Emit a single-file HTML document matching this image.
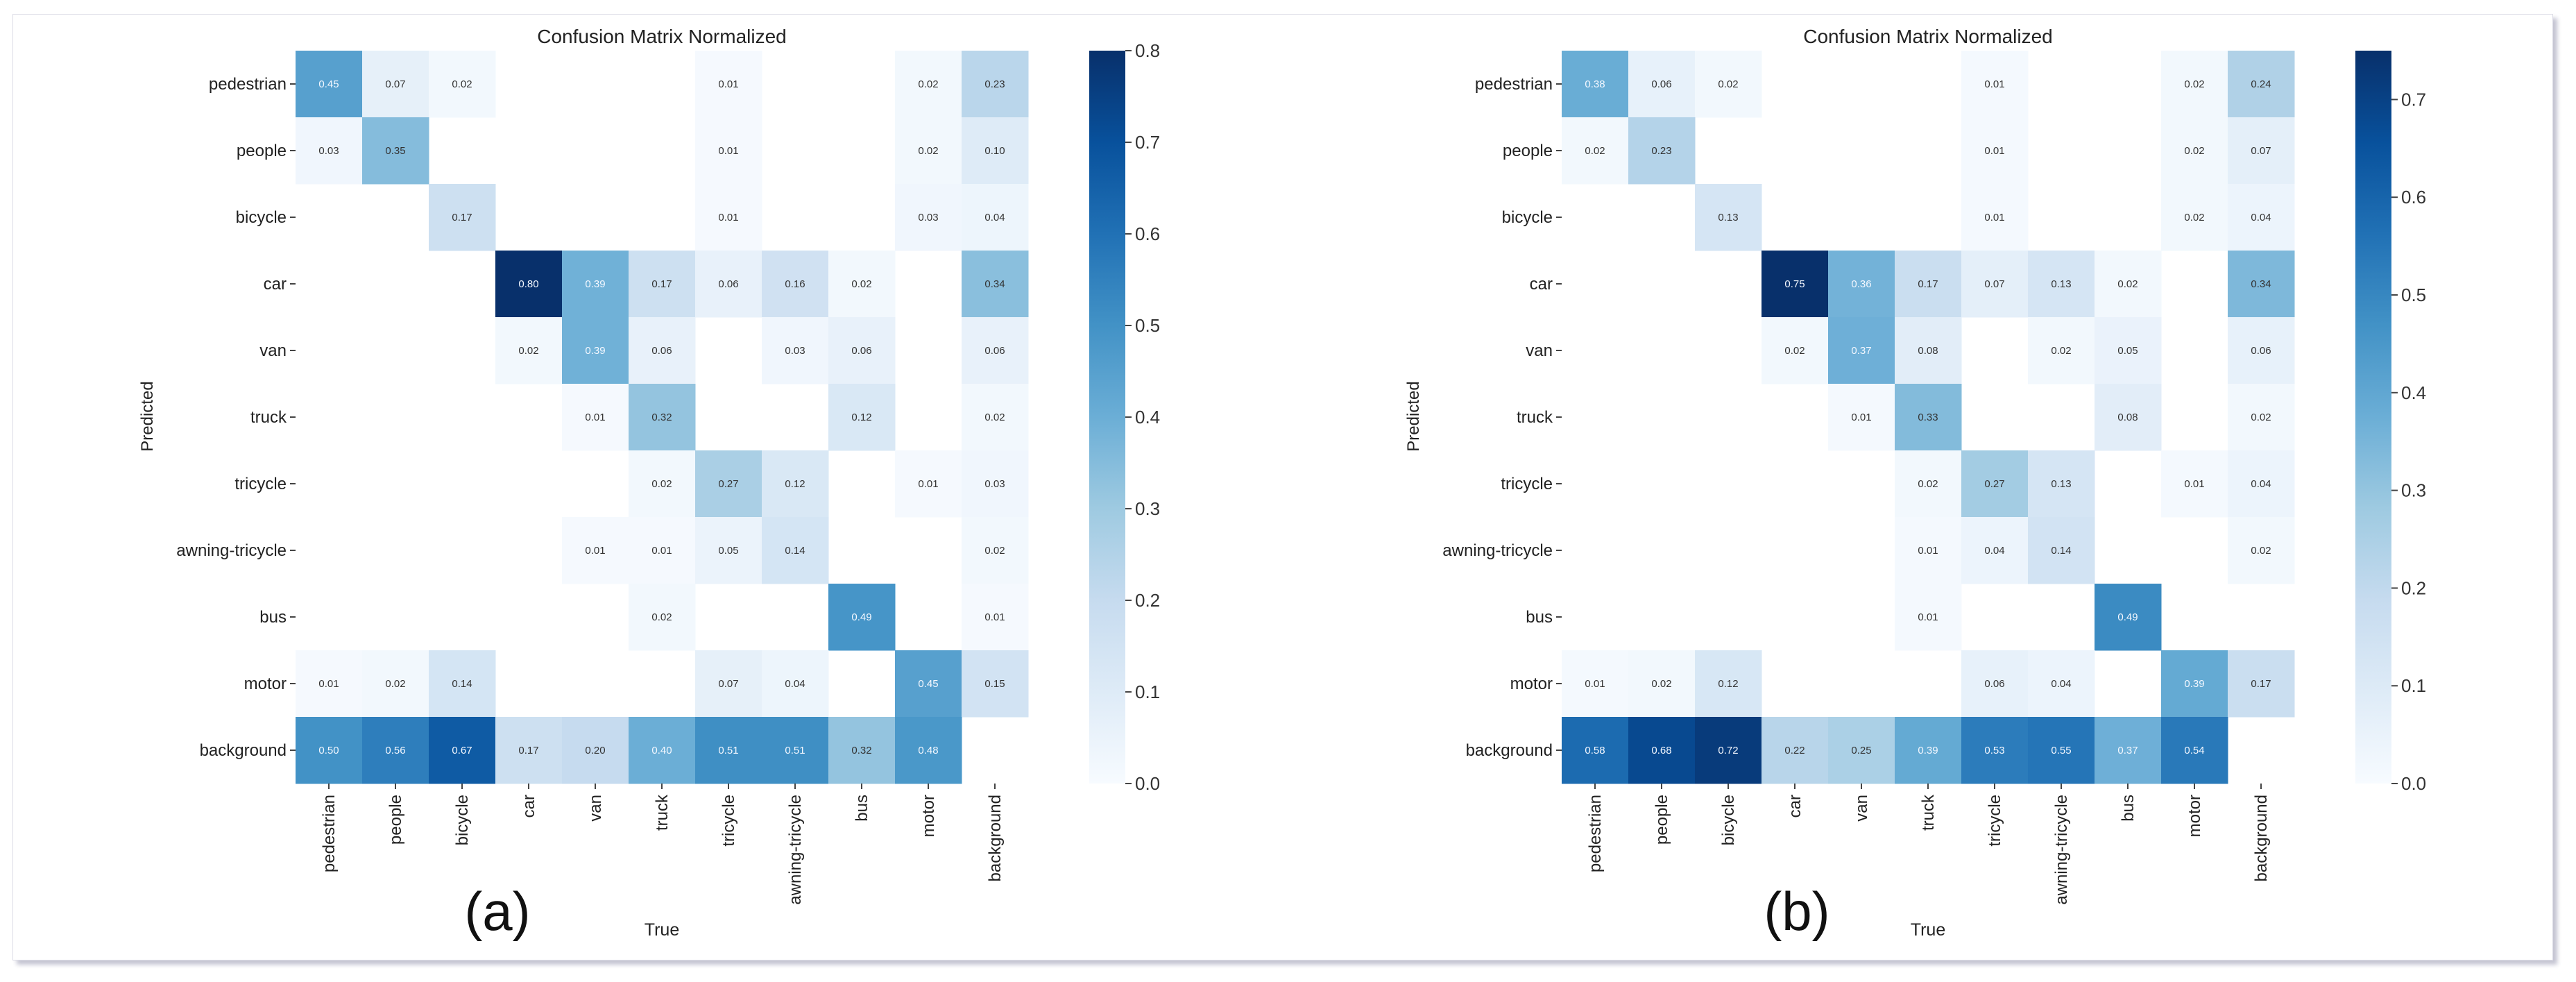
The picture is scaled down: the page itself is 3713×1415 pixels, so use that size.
<!DOCTYPE html>
<html><head><meta charset="utf-8">
<style>
html,body{margin:0;padding:0;background:#fff;}
#frame{position:absolute;left:18px;top:20px;width:3660px;height:1362px;border:1px solid #dcdce6;box-shadow:6px 6px 6px #c4c4d2;background:#fff;}
svg{position:absolute;left:0;top:0;}
text{font-family:"Liberation Sans",sans-serif;}
</style></head>
<body>
<div id="frame"></div>
<svg id="chart" width="3713" height="1415"></svg>
<script>
const classes = ["pedestrian","people","bicycle","car","van","truck","tricycle","awning-tricycle","bus","motor","background"];
const matrixA = [
 [0.45,0.07,0.02,null,null,null,0.01,null,null,0.02,0.23],
 [0.03,0.35,null,null,null,null,0.01,null,null,0.02,0.10],
 [null,null,0.17,null,null,null,0.01,null,null,0.03,0.04],
 [null,null,null,0.80,0.39,0.17,0.06,0.16,0.02,null,0.34],
 [null,null,null,0.02,0.39,0.06,null,0.03,0.06,null,0.06],
 [null,null,null,null,0.01,0.32,null,null,0.12,null,0.02],
 [null,null,null,null,null,0.02,0.27,0.12,null,0.01,0.03],
 [null,null,null,null,0.01,0.01,0.05,0.14,null,null,0.02],
 [null,null,null,null,null,0.02,null,null,0.49,null,0.01],
 [0.01,0.02,0.14,null,null,null,0.07,0.04,null,0.45,0.15],
 [0.50,0.56,0.67,0.17,0.20,0.40,0.51,0.51,0.32,0.48,null]
];
const matrixB = [
 [0.38,0.06,0.02,null,null,null,0.01,null,null,0.02,0.24],
 [0.02,0.23,null,null,null,null,0.01,null,null,0.02,0.07],
 [null,null,0.13,null,null,null,0.01,null,null,0.02,0.04],
 [null,null,null,0.75,0.36,0.17,0.07,0.13,0.02,null,0.34],
 [null,null,null,0.02,0.37,0.08,null,0.02,0.05,null,0.06],
 [null,null,null,null,0.01,0.33,null,null,0.08,null,0.02],
 [null,null,null,null,null,0.02,0.27,0.13,null,0.01,0.04],
 [null,null,null,null,null,0.01,0.04,0.14,null,null,0.02],
 [null,null,null,null,null,0.01,null,null,0.49,null,null],
 [0.01,0.02,0.12,null,null,null,0.06,0.04,null,0.39,0.17],
 [0.58,0.68,0.72,0.22,0.25,0.39,0.53,0.55,0.37,0.54,null]
];
const ticksA = [0.0,0.1,0.2,0.3,0.4,0.5,0.6,0.7,0.8];
const ticksB = [0.0,0.1,0.2,0.3,0.4,0.5,0.6,0.7];
const panelLabels = ["(a)","(b)"];

const NS="http://www.w3.org/2000/svg";
const svg=document.getElementById('chart');
function mk(tag,attrs,parent){const e=document.createElementNS(NS,tag);for(const k in attrs)e.setAttribute(k,attrs[k]);(parent||svg).appendChild(e);return e;}
const stops=["#f7fbff","#deebf7","#c6dbef","#9ecae1","#6baed6","#4292c6","#2171b5","#08519c","#08306b"].map(h=>[parseInt(h.slice(1,3),16),parseInt(h.slice(3,5),16),parseInt(h.slice(5,7),16)]);
function blues(t){t=Math.max(0,Math.min(1,t));const p=t*8,i=Math.min(7,Math.floor(p)),f=p-i;const a=stops[i],b=stops[i+1];return [0,1,2].map(k=>Math.round(a[k]+(b[k]-a[k])*f));}
function rgb(c){return `rgb(${c[0]},${c[1]},${c[2]})`;}
function lum(c){const l=c.map(v=>{v/=255;return v<=0.03928?v/12.92:Math.pow((v+0.055)/1.055,2.4)});return 0.2126*l[0]+0.7152*l[1]+0.0722*l[2];}

function drawPanel(ox, data, ticks, label, labelX){
  const g=mk('g',{});
  
  
  const left=ox, top=73, cw=96, ch=96, n=classes.length;
  const vmax=Math.max(...data.flat().filter(v=>v!==null));
  const xS=i=>left+i*cw, yS=j=>top+j*ch;
  const t=mk('text',{x:left+n*cw/2,y:62,'font-size':28,'text-anchor':'middle',fill:'#222'},g);
  t.textContent='Confusion Matrix Normalized';
  
  
  data.forEach((row,j)=>row.forEach((v,i)=>{
    if(v===null)return;
    const c=blues(v/vmax);
    const r=mk('rect',{x:xS(i),y:yS(j),width:cw+0.5,height:ch+0.5,fill:rgb(c)},g);
    
    
    const tx=mk('text',{x:xS(i)+cw/2,y:yS(j)+ch/2+5,'font-size':15,'text-anchor':'middle',fill:lum(c)<0.408?'#f4f8ff':'#333'},g);
    tx.textContent=v.toFixed(2);
    
    
  }));
  classes.forEach((name,j)=>{
    const y=yS(j)+ch/2;
    mk('line',{x1:left-8,x2:left,y1:y,y2:y,stroke:'#444','stroke-width':2},g);
    const l=mk('text',{x:left-13,y:y+8,'font-size':24,'text-anchor':'end',fill:'#222'},g);
    l.textContent=name;
    
    
    const x=xS(j)+cw/2;
    mk('line',{x1:x,x2:x,y1:top+n*ch,y2:top+n*ch+8,stroke:'#444','stroke-width':2},g);
    const cl=mk('text',{x:x+8,y:top+n*ch+16,'font-size':24,'text-anchor':'end',fill:'#222',transform:`rotate(-90 ${x+8} ${top+n*ch+16})`},g);
    cl.textContent=name;
    
    
  });
  const yl=mk('text',{x:left-206,y:600,'font-size':24,'text-anchor':'middle',fill:'#222',transform:`rotate(-90 ${left-206} 600)`},g);
  yl.textContent='Predicted';
  
  
  const xl=mk('text',{x:left+n*cw/2,y:1348,'font-size':25,'text-anchor':'middle',fill:'#222'},g);
  xl.textContent='True';
  
  
  const pl=mk('text',{x:labelX,y:1340,'font-size':78,'text-anchor':'middle',fill:'#111'},g);
  pl.textContent=label;
  
  
  const cbx=left+1144, cbw=52, cbTop=top, cbBot=top+n*ch;
  const gid='grad'+ox;
  const defs=mk('defs',{},g);
  const lg=mk('linearGradient',{id:gid,x1:0,y1:1,x2:0,y2:0},defs);
  for(let k=0;k<=8;k++)mk('stop',{offset:k/8,'stop-color':rgb(stops[k])},lg);
  const cb=mk('rect',{x:cbx,y:cbTop,width:cbw,height:cbBot-cbTop,fill:`url(#${gid})`},g);
  
  
  const cy=v=>cbBot-(v/vmax)*(cbBot-cbTop);
  ticks.forEach(v=>{
    const y=cy(v);
    mk('line',{x1:cbx+cbw,x2:cbx+cbw+9,y1:y,y2:y,stroke:'#444','stroke-width':2},g);
    const tl=mk('text',{x:cbx+cbw+14,y:y+9,'font-size':26,fill:'#333'},g);
    tl.textContent=v.toFixed(1);
    
    
  });
}
drawPanel(426, matrixA, ticksA, panelLabels[0], 717);
drawPanel(2251, matrixB, ticksB, panelLabels[1], 2590);
</script>
</body></html>
